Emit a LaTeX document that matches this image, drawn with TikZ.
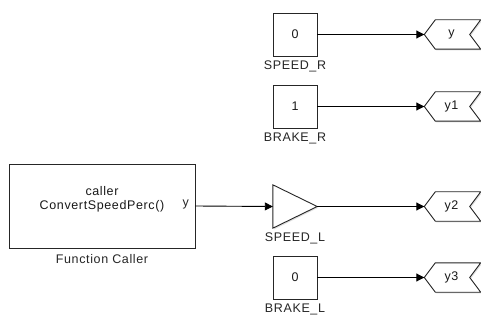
\documentclass[tikz,border=0pt]{standalone}
\usepackage{fontspec}
\setmainfont{Liberation Sans}[LetterSpace=5]
\usetikzlibrary{arrows.meta,shadows}

\tikzset{
  blk/.style={draw=black!85, line width=0.9pt, fill=white,
    drop shadow={shadow xshift=1.2pt, shadow yshift=-1.2pt, opacity=0.25}},
  constblk/.style={blk, minimum width=44pt, minimum height=43pt, inner sep=0pt},
  gainblk/.style={minimum width=44pt, minimum height=43pt, inner xsep=9pt,
    text width=26pt, align=left},
  gotoblk/.style={minimum width=56pt, minimum height=29pt, inner sep=0pt},
  fcblk/.style={blk, minimum width=186pt, minimum height=84pt, align=center},
  sig/.style={line width=0.9pt, -{Triangle[length=8pt,width=8pt]}},
  every label/.style={text=black!85, label distance=1pt}
}

\begin{document}
\begin{tikzpicture}[x=1pt, y=-1pt, font=\fontsize{12.5}{13.5}\selectfont, text=black!90]
\useasboundingbox[fill=white] (0,0) rectangle (481,320);

% function caller block
\node[fcblk, label={[label distance=2pt]below:Function Caller},
  label={[anchor=east, xshift=-4pt, yshift=2pt]east:y}] (fc) at (102,206)
  {caller\\ConvertSpeedPerc()\\[3pt]\mbox{}};

% constants and gain
\node[constblk, label=below:SPEED\_R] (spr) at (295,34.5) {0};
\node[constblk, label=below:BRAKE\_R] (brr) at (295,106.5) {1};
\node[gainblk, label=below:SPEED\_L] (spl) at (295,206.5) {1};
\node[constblk, label=below:BRAKE\_L] (brl) at (295,277.5) {0};
\draw[blk] (spl.north west) -- (spl.east) -- (spl.south west) -- cycle;

% goto tags
\node[gotoblk] (gy) at (452.5,34.5) {};
\node[gotoblk] (gy1) at (452.5,106.5) {};
\node[gotoblk] (gy2) at (452.5,206.5) {};
\node[gotoblk] (gy3) at (452.5,277.5) {};
\foreach \t/\s in {gy/y, gy1/y1, gy2/y2, gy3/y3} {
  \draw[blk] (\t.west) -- ([xshift=11pt]\t.north west) -- (\t.north east)
    -- ([xshift=-11pt]\t.east) -- (\t.south east) -- ([xshift=11pt]\t.south west) -- cycle;
  \node at ([xshift=-1pt]\t.center) {\s};
}

% signals
\draw[sig] (fc.east) -- (spl.west);
\draw[sig] (spr.east) -- (gy.west);
\draw[sig] (brr.east) -- (gy1.west);
\draw[sig] (spl.east) -- (gy2.west);
\draw[sig] (brl.east) -- (gy3.west);
\end{tikzpicture}
\end{document}
